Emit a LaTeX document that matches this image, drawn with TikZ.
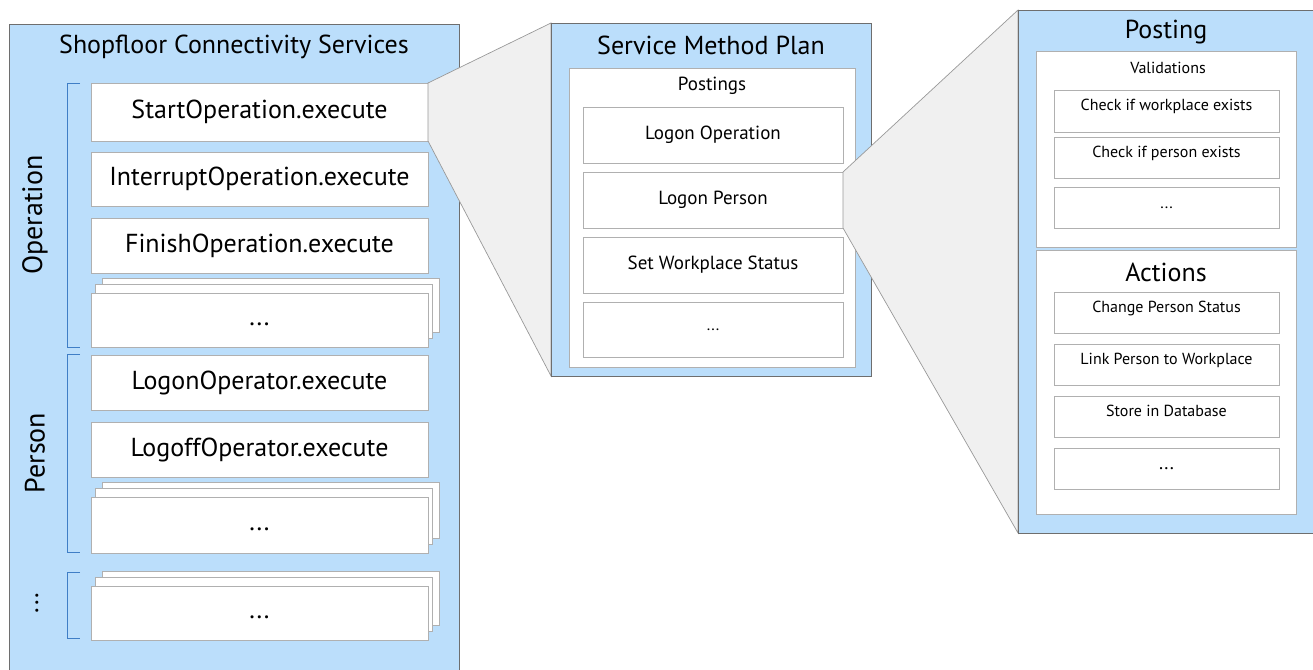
\documentclass[tikz,border=0pt]{standalone}
\usepackage{fontspec}
\setmainfont{PT Sans}
\definecolor{panelblue}{HTML}{BBDEFB}
\definecolor{funnelgray}{HTML}{F0F0F0}
\definecolor{bracketblue}{HTML}{3F7EC6}
\definecolor{panelborder}{HTML}{6E6E6E}
\definecolor{cardborder}{HTML}{B0B0B0}
\pgfdeclarelayer{pa}\pgfdeclarelayer{fa}\pgfdeclarelayer{pb}\pgfdeclarelayer{fb}\pgfdeclarelayer{pc}
\pgfsetlayers{pa,fa,pb,fb,pc,main}
\newcommand\bx[7]{%
  \pgfmathsetmacro\bxw{#4-#2}\pgfmathsetmacro\bxh{#5-#3}%
  \pgfmathsetmacro\bxcx{(#2+#4)/2}\pgfmathsetmacro\bxcy{(#3+#5)/2}%
  \node[#6, minimum width=\bxw pt, minimum height=\bxh pt] (#1) at (\bxcx,\bxcy) {#7};}
\newcommand\stk[6]{% name x1 y1 x2 y2 text
  \pgfmathsetmacro\skw{#4-#2}\pgfmathsetmacro\skh{#5-#3}%
  \pgfmathsetmacro\skcx{(#2+#4)/2}\pgfmathsetmacro\skcy{(#3+#5)/2}%
  \node[card, minimum width=\skw pt, minimum height=\skh pt] (#1b) at (\skcx+11.5,\skcy-14.5) {};
  \node[card, minimum width=\skw pt, minimum height=\skh pt] (#1m) at (\skcx+4.5,\skcy-8.5) {};
  \node[card, big, text height=14pt, text depth=4pt, minimum width=\skw pt, minimum height=\skh pt] (#1) at (\skcx,\skcy) {#6};}
\begin{document}
\begin{tikzpicture}[x=1pt,y=-1pt,
  panel/.style={fill=panelblue, draw=panelborder, line width=0.8pt, inner sep=0pt, outer sep=0pt},
  container/.style={fill=white, draw=cardborder, line width=0.8pt, inner sep=0pt, outer sep=0pt},
  card/.style={fill=white, draw=cardborder, line width=0.9pt, inner sep=0pt, outer sep=0pt},
  rcard/.style={card, small, text height=11pt, text depth=12pt},
  big/.style={font=\fontsize{26}{30}\selectfont},
  mid/.style={font=\fontsize{19}{23}\selectfont},
  small/.style={font=\fontsize{16}{19}\selectfont},
  funnel/.style={fill=funnelgray, draw=gray!80, line width=0.7pt, line join=miter},
  bracket/.style={draw=bracketblue, line width=1pt},
  ttl/.style={inner sep=0pt, text=black}]
\useasboundingbox (0,0) rectangle (1313,669);

% ---------- left panel ----------
\begin{pgfonlayer}{pa}
\bx{scs}{9}{24}{459}{690}{panel}{}
\node[ttl,big] (scstitle) at (234,47) {Shopfloor Connectivity Services};
\bx{start}{91}{83}{428}{141}{card,big}{StartOperation.execute}
\bx{interrupt}{91}{152}{428}{206}{card,big}{InterruptOperation.execute}
\bx{finish}{91}{218}{428}{273}{card,big}{FinishOperation.execute}
\stk{opmore}{91}{293}{428}{347}{...}
\bx{logon}{91}{355}{428}{410}{card,big}{LogonOperator.execute}
\bx{logoff}{91}{422}{428}{477}{card,big}{LogoffOperator.execute}
\stk{permore}{91}{497}{428}{553}{...}
\stk{more}{91}{586}{428}{640}{...}
\draw[bracket] (80,83) -- (67,83) -- (67,347) -- (80,347);
\draw[bracket] (80,354) -- (67,354) -- (67,552) -- (80,552);
\draw[bracket] (80,572) -- (67,572) -- (67,638) -- (80,638);
\node[ttl,font=\fontsize{28}{32}\selectfont,rotate=90] (oplab) at (35,215) {Operation};
\node[ttl,font=\fontsize{28}{32}\selectfont,rotate=90] (perlab) at (35,453) {Person};
\node[ttl,big,rotate=90] (morelab) at (37,603) {...};
\end{pgfonlayer}

% ---------- middle panel ----------
\begin{pgfonlayer}{pb}
\bx{smp}{551}{23}{871}{376}{panel}{}
\node[ttl,big] (smptitle) at (711,45) {Service Method Plan};
\bx{postings}{569}{68}{855}{367}{container}{}
\node[ttl,mid] (postingslab) at (712,86) {Postings};
\bx{lop}{583}{107}{843}{163}{card,mid}{Logon Operation}
\bx{lpe}{583}{172}{843}{228}{card,mid}{Logon Person}
\bx{sws}{583}{237}{843}{293}{card,mid}{Set Workplace Status}
\bx{pmore}{583}{302}{843}{357}{card,small}{...}
\end{pgfonlayer}

% ---------- right panel ----------
\begin{pgfonlayer}{pc}
\bx{post}{1018}{10}{1320}{533}{panel}{}
\node[ttl,big] (posttitle) at (1166,32) {Posting};
\bx{valid}{1036}{51}{1296}{247}{container}{}
\node[ttl,small] (validlab) at (1168,68) {Validations};
\bx{cw}{1054}{90}{1279}{132}{rcard}{Check if workplace exists}
\bx{cp}{1054}{137}{1279}{178}{rcard}{Check if person exists}
\bx{vmore}{1054}{187}{1279}{228}{card,small}{...}
\bx{actions}{1036}{250}{1296}{514}{container}{}
\node[ttl,big] (actlab) at (1166,272) {Actions};
\bx{cps}{1054}{292}{1279}{333}{rcard}{Change Person Status}
\bx{lpw}{1054}{344}{1279}{385}{rcard}{Link Person to Workplace}
\bx{sid}{1054}{396}{1279}{437}{rcard}{Store in Database}
\bx{amore}{1054}{448}{1279}{489}{card,mid}{...}
\end{pgfonlayer}

% ---------- zoom funnels ----------
\begin{pgfonlayer}{fa}
\draw[funnel] (start.north east) -- (smp.north west) -- (smp.south west) -- (start.south east) -- cycle;
\end{pgfonlayer}
\begin{pgfonlayer}{fb}
\draw[funnel] (lpe.north east) -- (post.north west) -- (post.south west) -- (lpe.south east) -- cycle;
\end{pgfonlayer}
\end{tikzpicture}
\end{document}
